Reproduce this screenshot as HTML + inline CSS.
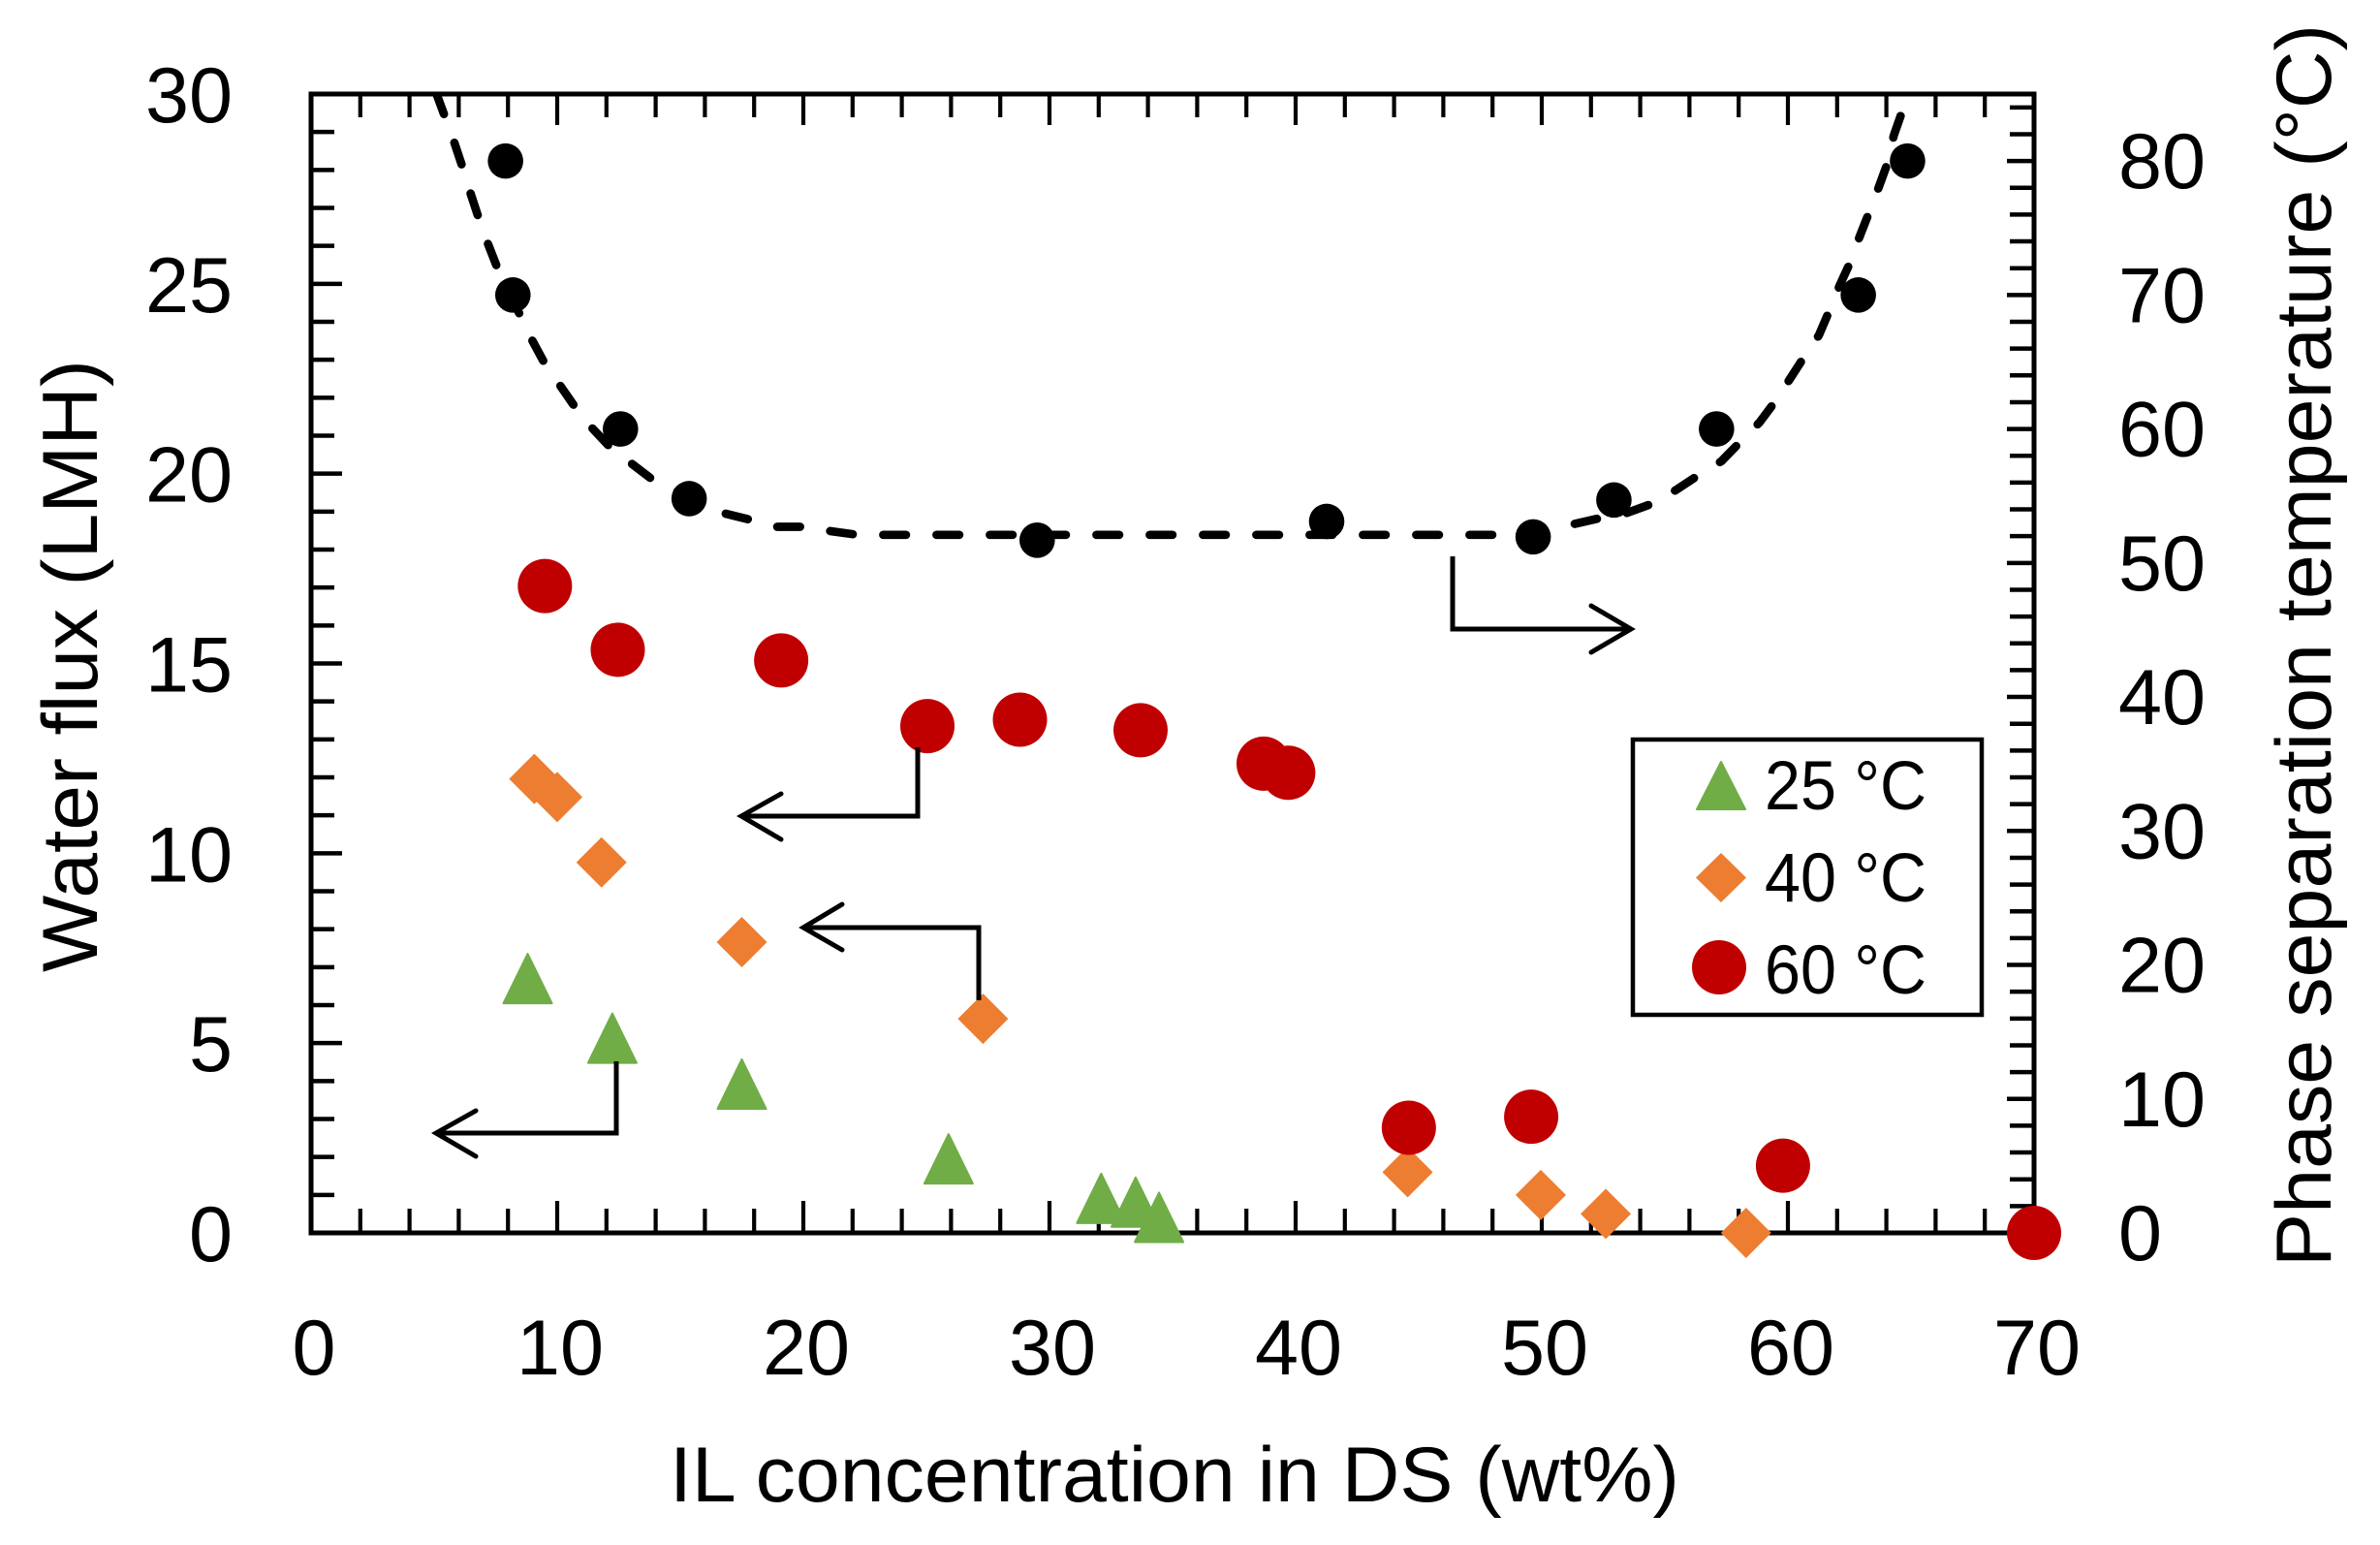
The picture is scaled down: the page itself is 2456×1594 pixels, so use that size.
<!DOCTYPE html>
<html lang="en">
<head>
<meta charset="utf-8">
<title>Water flux and phase separation temperature</title>
<style>
html,body{margin:0;padding:0;background:#fff;}
svg{display:block;}
text{font-family:"Liberation Sans",sans-serif;fill:#000;}
</style>
</head>
<body>
<svg id="chart" xmlns="http://www.w3.org/2000/svg" width="2456" height="1594" viewBox="0 0 2456 1594">
  <rect x="0" y="0" width="2456" height="1594" fill="#fff"/>
  <clipPath id="plot-clip"><rect x="321" y="97" width="1778" height="1175"/></clipPath>
  <g id="ticks"></g>
  <rect x="321" y="97" width="1778" height="1175" fill="none" stroke="#000" stroke-width="5"/>
  <g id="tick-labels"></g>
  <text x="691" y="1549" font-size="81" textLength="1042" lengthAdjust="spacingAndGlyphs">IL concentration in DS (wt%)</text>
  <text transform="translate(100,1003) rotate(-90)" x="0" y="0" font-size="81" textLength="632" lengthAdjust="spacingAndGlyphs">Water flux (LMH)</text>
  <text transform="translate(2405,1307) rotate(-90)" x="0" y="0" font-size="81" textLength="1282" lengthAdjust="spacingAndGlyphs">Phase separation temperature (°C)</text>
  <g id="curve-layer" clip-path="url(#plot-clip)"></g>
  <g id="series-layer"></g>
  <g fill="none" stroke="#000" stroke-width="5">
    <g>
      <path d="M636 1095V1169H450" stroke-linejoin="miter"/>
      <path d="M491 1146L450 1169L491 1193" stroke-linecap="round" stroke-linejoin="miter"/>
    </g>
    <g>
      <path d="M947 771V842H765"/>
      <path d="M806 819L765 842L806 866" stroke-linecap="round"/>
    </g>
    <g>
      <path d="M1010 1032V957H829"/>
      <path d="M869 933L829 957L869 980" stroke-linecap="round"/>
    </g>
    <g>
      <path d="M1499 574V649H1683"/>
      <path d="M1642 625L1683 649L1642 673" stroke-linecap="round"/>
    </g>
  </g>
  <g>
    <rect x="1685" y="763" width="360" height="284" fill="none" stroke="#000" stroke-width="4.5"/>
    <g>
      <path d="M1776 786L1801 835H1751Z" fill="#70AD47" stroke="#70AD47" stroke-width="2" stroke-linejoin="round"/>
      <text x="1821" y="835" font-size="71" textLength="167" lengthAdjust="spacingAndGlyphs">25 °C</text>
    </g>
    <g>
      <path d="M1776 880L1802 905.500L1776 931L1750 905.500Z" fill="#ED7D31"/>
      <text x="1821" y="930" font-size="71" textLength="167" lengthAdjust="spacingAndGlyphs">40 °C</text>
    </g>
    <g>
      <circle cx="1774" cy="998" r="28" fill="#C00000"/>
      <text x="1821" y="1025" font-size="71" textLength="167" lengthAdjust="spacingAndGlyphs">60 °C</text>
    </g>
  </g>
</svg>
<script>
// Tick values
const xTickValues = [0, 10, 20, 30, 40, 50, 60, 70];
const leftTickValues = [0, 5, 10, 15, 20, 25, 30];
const rightTickValues = [0, 10, 20, 30, 40, 50, 60, 70, 80];

// Water flux (LMH) against IL concentration (wt%)
const flux25X = [8.8, 12.24, 17.5, 25.9, 32.1, 33.5, 34.45];
const flux25Y = [6.7, 5.13, 3.92, 1.95, 0.91, 0.81, 0.41];
const flux40X = [9.07, 10.0, 11.8, 17.5, 27.3, 44.55, 49.96, 52.6, 58.3];
const flux40Y = [11.96, 11.48, 9.76, 7.66, 5.64, 1.6, 1.0, 0.5, 0.0];
const flux60X = [9.5, 12.46, 19.1, 25.04, 28.8, 33.7, 38.7, 39.7, 44.6, 49.57, 59.8, 70.0];
const flux60Y = [17.04, 15.36, 15.08, 13.35, 13.52, 13.24, 12.36, 12.12, 2.77, 3.06, 1.77, 0.0];

// Phase separation temperature (deg C) against IL concentration (wt%)
const tempX = [7.9, 8.2, 12.57, 15.36, 29.5, 41.26, 49.65, 52.93, 57.1, 62.86, 64.86];
const tempY = [80, 70, 60, 54.8, 51.7, 53.1, 51.95, 54.7, 60, 70, 80];
const curveX = [5.1, 5.78, 6.14, 6.44, 6.8, 7.15, 7.55, 8.96, 9.49, 10.1, 10.7, 11.4, 12.17, 13.03, 13.88, 16.8, 17.9, 18.8, 20.1, 21.0, 22.2, 25, 30, 35, 40, 45, 49.6, 50.4, 51.3, 52.5, 53.4, 54.6, 55.5, 56.4, 57.3, 58.1, 58.85, 59.5, 60.07, 60.7, 61.26, 61.7, 62.1, 62.6, 62.9, 63.35, 63.7, 64.1, 64.3, 64.7];
const curveT = [85.0, 81.6, 79.6, 77.8, 75.8, 74.0, 72.1, 66.7, 64.9, 63.3, 61.7, 60.1, 58.6, 57.4, 56.2, 53.7, 53.2, 52.7, 52.7, 52.4, 52.1, 52.1, 52.1, 52.1, 52.1, 52.1, 52.1, 52.5, 52.9, 53.4, 53.7, 54.5, 55.5, 56.6, 57.6, 59.1, 60.5, 62.1, 63.7, 65.5, 67.0, 68.9, 70.7, 72.7, 74.3, 76.4, 78.1, 80.1, 81.9, 84.0];

const NS = 'http://www.w3.org/2000/svg';
const plot = { left: 321, right: 2099, top: 97, bottom: 1272 };
const xMax = 70, leftMax = 30, rightMax = 85;

function xs(v) { return plot.left + (v / xMax) * (plot.right - plot.left); }
function yl(v) { return plot.bottom - (v / leftMax) * (plot.bottom - plot.top); }
function yr(v) { return plot.bottom - (v / rightMax) * (plot.bottom - plot.top); }

function mk(parent, tag, attrs) {
  const el = document.createElementNS(NS, tag);
  for (const k in attrs) el.setAttribute(k, attrs[k]);
  parent.appendChild(el);
  return el;
}

const tickG = document.getElementById('ticks');
const labelG = document.getElementById('tick-labels');
const curveG = document.getElementById('curve-layer');
const seriesG = document.getElementById('series-layer');

function tick(x1, y1, x2, y2, w) {
  const el = mk(tickG, 'line', { x1: x1, y1: y1, x2: x2, y2: y2, stroke: '#000', 'stroke-width': w });
  
  
}

// x axis ticks, top and bottom: minor every 2, major every 10
for (let v = 2; v < xMax; v += 2) {
  const major = v % 10 === 0;
  const x = xs(v);
  tick(x, plot.bottom, x, plot.bottom - (major ? 33 : 25), 4.2);
  tick(x, plot.top, x, plot.top + (major ? 32 : 24), 4.2);
}
// left axis ticks: minor every 1, major every 5
for (let v = 1; v < leftMax; v += 1) {
  const y = yl(v);
  tick(plot.left, y, plot.left + (v % 5 === 0 ? 32 : 24), y, 4.5);
}
// right axis ticks: minor every 2, major every 10
for (let v = 2; v < rightMax; v += 2) {
  const y = yr(v);
  tick(plot.right, y, plot.right - (v % 10 === 0 ? 28 : 25), y, 4.5);
}

function tickLabel(text, x, y, anchor) {
  const el = mk(labelG, 'text', {
    x: x, y: y, 'font-size': 81, 'text-anchor': anchor,
    textLength: String(text).length * 45, lengthAdjust: 'spacingAndGlyphs'
  });
  el.textContent = text;
  
  
}
xTickValues.forEach(function (v) { tickLabel(v, xs(v) + 3, 1418, 'middle'); });
leftTickValues.forEach(function (v) { tickLabel(v, 240, yl(v) + 29, 'end'); });
rightTickValues.forEach(function (v) { tickLabel(v, 2186, yr(v) + 28, 'start'); });

// Dashed phase boundary curve
const curvePts = curveX.map(function (v, i) { return [xs(v), yr(curveT[i])]; });
const curvePath = mk(curveG, 'path', {
  d: 'M' + curvePts.map(function (p) { return p[0].toFixed(1) + ' ' + p[1].toFixed(1); }).join('L'),
  fill: 'none', stroke: '#000', 'stroke-width': 8.7, 'stroke-linecap': 'round', 'stroke-linejoin': 'round',
  'stroke-dasharray': '23.5 31.5'
});


// Align the dash phase with the flat middle section of the curve
let dashLen = 0;
for (let i = 1; i < curvePts.length; i++) {
  const a = curvePts[i - 1], b = curvePts[i];
  const seg = Math.hypot(b[0] - a[0], b[1] - a[1]);
  if (b[0] >= 1409.5) { dashLen += Math.hypot(1409.5 - a[0], b[1] - a[1]); break; }
  dashLen += seg;
}
curvePath.setAttribute('stroke-dashoffset', (dashLen % 55).toFixed(2));

// Temperature points
tempX.forEach(function (v, i) {
  const el = mk(curveG.parentNode, 'circle', { cx: xs(v), cy: yr(tempY[i]), r: 18.3, fill: '#000' });
  
  
  curveG.parentNode.insertBefore(el, seriesG);
});

// 25 C triangles
flux25X.forEach(function (v, i) {
  const cx = xs(v), cy = yl(flux25Y[i]);
  const el = mk(seriesG, 'path', {
    d: 'M' + cx + ' ' + (cy - 25.5) + 'L' + (cx + 25) + ' ' + (cy + 25.5) + 'H' + (cx - 25) + 'Z',
    fill: '#70AD47', stroke: '#70AD47', 'stroke-width': 2, 'stroke-linejoin': 'round'
  });
  
  
});

// 40 C diamonds
flux40X.forEach(function (v, i) {
  const cx = xs(v), cy = yl(flux40Y[i]);
  const el = mk(seriesG, 'path', {
    d: 'M' + cx + ' ' + (cy - 26) + 'L' + (cx + 26) + ' ' + cy + 'L' + cx + ' ' + (cy + 26) + 'L' + (cx - 26) + ' ' + cy + 'Z',
    fill: '#ED7D31'
  });
  
  
});

// 60 C circles
flux60X.forEach(function (v, i) {
  const el = mk(seriesG, 'circle', { cx: xs(v), cy: yl(flux60Y[i]), r: 28, fill: '#C00000' });
  
  
});
</script>
</body>
</html>
